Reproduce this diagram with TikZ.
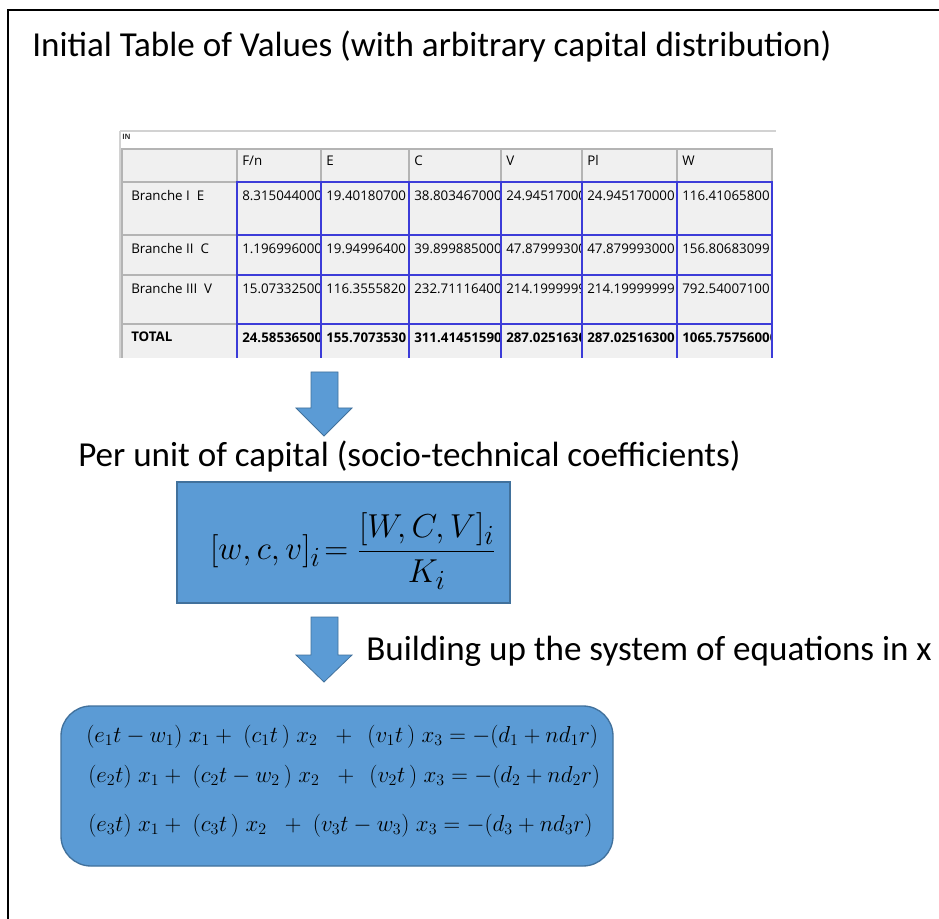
\documentclass[tikz,border=0pt]{standalone}
\usepackage{fontspec}
\usepackage{amsmath}
\setmainfont{Carlito}
\newfontfamily\tabfont{Open Sans}
\definecolor{boxfill}{HTML}{5B9BD5}
\definecolor{boxline}{HTML}{41719C}
\definecolor{cellgray}{HTML}{F0F0F0}
\definecolor{cellblue}{HTML}{3C3CD8}
\definecolor{hdrline}{HTML}{B4B4B4}
\tikzset{
  bigtext/.style={anchor=base west, inner sep=0pt, font=\fontsize{26.3}{31}\selectfont},
  tabtxt/.style={anchor=base west, inner sep=0pt, font=\tabfont\fontsize{10}{12}\selectfont},
  bluecell/.style={draw=cellblue, line width=1.5pt},
  hdrcell/.style={fill=cellgray, draw=hdrline, line width=1.2pt},
  blockarrow/.style={fill=boxfill, draw=boxline, line width=0.6pt},
  bluebox/.style={fill=boxfill, draw=boxline, line width=1pt},
  eqtxt/.style={anchor=base west, inner sep=0pt, font=\fontsize{17.1}{20}\selectfont}
}
% data cell: name, x1, y1, x2, y2, text
\newcommand\dcell[6]{%
  \fill[cellgray] (#2,#3) rectangle (#4,#5);
  \begin{scope}[shift={(#2,#3)}]
    \clip (0,0) rectangle (#4-#2-2,#5-#3);
    \node[tabtxt] (#1) at (5,19) {#6};
  \end{scope}
  \draw[bluecell] (#2,#3) rectangle (#4,#5);
}
\usetikzlibrary{calc}
\begin{document}
\begin{tikzpicture}[x=0.75pt,y=-0.75pt]
\useasboundingbox (0,0) rectangle (939,919);
\clip (0,0) rectangle (939,919);
\fill[white] (0,0) rectangle (939,919);
% frame
\draw[line width=1.6pt] (8,10) rectangle (980,960);

% title
\node[bigtext] (title) at (32,57) {Initial Table of Values (with arbitrary capital distribution)};

% ---------- table ----------
\begin{scope}
\clip (119,129) rectangle (777,358);
\fill[white] (119,129) rectangle (777,358);
\draw[hdrline!60, line width=0.8pt] (120,131) -- (776,131);
\draw[hdrline!60, line width=0.8pt] (120,131) -- (120,400);
\node[anchor=base west, inner sep=0pt, font=\tabfont\bfseries\fontsize{5.5}{6}\selectfont, text=black!80] (inlab) at (122,140) {IN};
% header row
\foreach \xa/\xb in {122/237,237/321,321/409,409/501,501/582,582/677,677/772}{
  \draw[hdrcell] (\xa,149) rectangle (\xb,182);
}
\node[tabtxt] (hF) at (242,166) {F/n};
\node[tabtxt] (hE) at (326,166) {E};
\node[tabtxt] (hC) at (414,166) {C};
\node[tabtxt] (hV) at (506,166) {V};
\node[tabtxt] (hP) at (587,166) {Pl};
\node[tabtxt] (hW) at (682,166) {W};
% row headers
\draw[hdrcell] (122,182) rectangle (237,235);
\draw[hdrcell] (122,235) rectangle (237,275);
\draw[hdrcell] (122,275) rectangle (237,324);
\draw[hdrcell] (122,324) rectangle (237,370);
\node[tabtxt] (r1) at (131,201) {Branche I\ \ E};
\node[tabtxt] (r2) at (131,254) {Branche II\ \ C};
\node[tabtxt] (r3) at (131,294) {Branche III\ \ V};
\node[tabtxt, font=\tabfont\bfseries\fontsize{10}{12}\selectfont] (r4) at (131,342) {TOTAL};
% data rows
\dcell{a11}{237}{182}{321}{235}{8.3150440000}
\dcell{a12}{321}{182}{409}{235}{19.40180700}
\dcell{a13}{409}{182}{501}{235}{38.803467000}
\dcell{a14}{501}{182}{582}{235}{24.94517000}
\dcell{a15}{582}{182}{677}{235}{24.945170000}
\dcell{a16}{677}{182}{772}{235}{116.41065800}
\dcell{a21}{237}{235}{321}{275}{1.1969960000}
\dcell{a22}{321}{235}{409}{275}{19.94996400}
\dcell{a23}{409}{235}{501}{275}{39.899885000}
\dcell{a24}{501}{235}{582}{275}{47.87999300}
\dcell{a25}{582}{235}{677}{275}{47.879993000}
\dcell{a26}{677}{235}{772}{275}{156.80683099}
\dcell{a31}{237}{275}{321}{324}{15.073325000}
\dcell{a32}{321}{275}{409}{324}{116.3555820}
\dcell{a33}{409}{275}{501}{324}{232.71116400}
\dcell{a34}{501}{275}{582}{324}{214.1999999}
\dcell{a35}{582}{275}{677}{324}{214.19999999}
\dcell{a36}{677}{275}{772}{324}{792.54007100}
\dcell{a41}{237}{324}{321}{372}{\bfseries 24.58536500}
\dcell{a42}{321}{324}{409}{372}{\bfseries 155.7073530}
\dcell{a43}{409}{324}{501}{372}{\bfseries 311.41451590}
\dcell{a44}{501}{324}{582}{372}{\bfseries 287.0251630}
\dcell{a45}{582}{324}{677}{372}{\bfseries 287.02516300}
\dcell{a46}{677}{324}{772}{372}{\bfseries 1065.75756000}
\end{scope}

% ---------- arrow 1 ----------
\filldraw[blockarrow] (311,372) -- (338,372) -- (338,408) -- (352,408) -- (324,436) -- (296,408) -- (311,408) -- cycle;

\node[bigtext] (perunit) at (78,467) {Per unit of capital (socio-technical coefficients)};

% formula box
\node[bluebox, minimum width=333*0.75pt, minimum height=121*0.75pt, inner sep=0pt] (fbox) at (343.5,542.5) {};
\node[inner sep=0pt, font=\fontsize{32}{36}\selectfont] (formula) at (353,551) {$[w,c,v]_i\!=\dfrac{[W,C,V]_i}{K_i}$};

% ---------- arrow 2 ----------
\filldraw[blockarrow] (311,617) -- (338,617) -- (338,655) -- (352,655) -- (324,682) -- (296,655) -- (311,655) -- cycle;

\node[bigtext] (building) at (366,660) {Building up the system of equations in x};

% equation box
\node[bluebox, rounded corners=30*0.75pt, minimum width=552*0.75pt, minimum height=160*0.75pt, inner sep=0pt] (ebox) at (337,786) {};
\node[eqtxt] (eq1) at (86,742) {$(e_1t-w_1)\;x_1+\;(c_1t\,)\;x_2\;\;+\;\,(v_1t\,)\;x_3=-(d_1+nd_1r)$};
\node[eqtxt] (eq2) at (88,782) {$(e_2t)\;x_1+\;(c_2t-w_2\,)\;x_2\;\;+\;\,(v_2t\,)\;x_3=-(d_2+nd_2r)$};
\node[eqtxt] (eq3) at (88,831) {$(e_3t)\;x_1+\;(c_3t\,)\;x_2\;\;+\;(v_3t-w_3)\;x_3=-(d_3+nd_3r)$};
\end{tikzpicture}
\end{document}
